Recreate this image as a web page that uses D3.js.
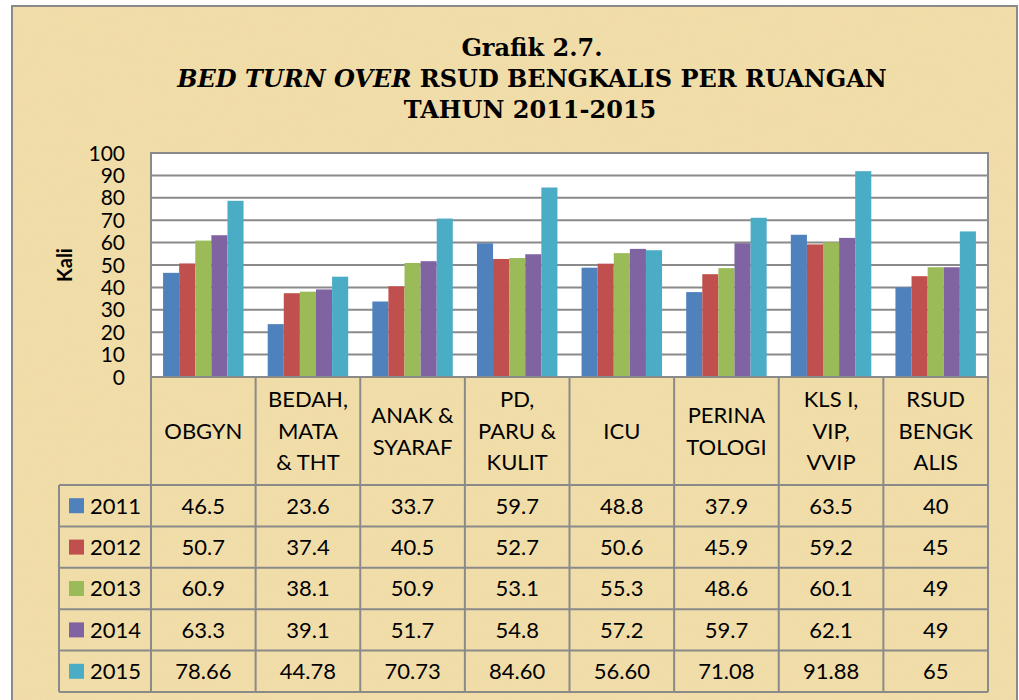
<!DOCTYPE html>
<html><head><meta charset="utf-8">
<script src="https://cdn.jsdelivr.net/npm/d3@7"></script>
<style>html,body{margin:0;padding:0;background:#fff;}svg{display:block;}</style>
</head><body>
<script>
const categories = [["OBGYN"],["BEDAH,","MATA","& THT"],["ANAK &","SYARAF"],["PD,","PARU &","KULIT"],["ICU"],["PERINA","TOLOGI"],["KLS I,","VIP,","VVIP"],["RSUD","BENGK","ALIS"]];
const years = ["2011","2012","2013","2014","2015"];
const v2011 = [46.5, 23.6, 33.7, 59.7, 48.8, 37.9, 63.5, 40];
const v2012 = [50.7, 37.4, 40.5, 52.7, 50.6, 45.9, 59.2, 45];
const v2013 = [60.9, 38.1, 50.9, 53.1, 55.3, 48.6, 60.1, 49];
const v2014 = [63.3, 39.1, 51.7, 54.8, 57.2, 59.7, 62.1, 49];
const v2015 = [78.66, 44.78, 70.73, 84.60, 56.60, 71.08, 91.88, 65];
const decimals = [1, 1, 1, 1, 2];
const colors = ["#4F81BD","#C0504D","#9BBB59","#8064A2","#4BACC6"];
const yTicks = [0,10,20,30,40,50,60,70,80,90,100];
const titleLines = ["Grafik 2.7.", "BED TURN OVER", " RSUD BENGKALIS PER RUANGAN", "TAHUN 2011-2015"];
const yLabel = "Kali";

const series = [v2011, v2012, v2013, v2014, v2015];
const W = 1019, H = 700;
const svg = d3.select("body").append("svg").attr("width", W).attr("height", H);

// background parchment
const defs = svg.append("defs");
const f = defs.append("filter").attr("id","paper").attr("x",0).attr("y",0).attr("width","100%").attr("height","100%");
f.append("feTurbulence").attr("type","fractalNoise").attr("baseFrequency","0.02 0.12").attr("numOctaves",3).attr("seed",4).attr("result","n");
f.append("feColorMatrix").attr("in","n").attr("type","matrix")
  .attr("values","0 0 0 0 0.80  0 0 0 0 0.68  0 0 0 0 0.40  0 0 0 0.3 0");
f.append("feComposite").attr("in2","SourceGraphic").attr("operator","in");

svg.append("rect").attr("x",0).attr("y",0).attr("width",W).attr("height",H).attr("fill","#ffffff");
svg.append("rect").attr("x",12).attr("y",6).attr("width",1005).attr("height",700).attr("fill","#F1DDA8");
svg.append("rect").attr("x",12).attr("y",6).attr("width",1005).attr("height",700).attr("fill","#F1DDA8").attr("filter","url(#paper)").attr("opacity",0.5);
svg.append("rect").attr("x",12).attr("y",6).attr("width",1005).attr("height",700).attr("fill","none").attr("stroke","#8a8a8a").attr("stroke-width",2);

// title
const tf = "'DejaVu Serif', 'Liberation Serif', serif";
const tfs = 24;
svg.append("text").attr("x",532).attr("y",56).attr("text-anchor","middle")
  .attr("font-family",tf).attr("font-weight","bold").attr("font-size",tfs).text(titleLines[0]);
const t2 = svg.append("text").attr("x",532).attr("y",87).attr("text-anchor","middle")
  .attr("font-family",tf).attr("font-weight","bold").attr("font-size",tfs);
t2.append("tspan").attr("font-style","italic").text(titleLines[1]);
t2.append("tspan").text(titleLines[2]);
svg.append("text").attr("x",530).attr("y",118).attr("text-anchor","middle")
  .attr("font-family",tf).attr("font-weight","bold").attr("font-size",tfs).text(titleLines[3]);

const L = 151, R = 988, T = 153, B = 377;
const font = "Lato, 'Open Sans', sans-serif";
const x = d3.scaleBand().domain(d3.range(categories.length)).range([L, R]).paddingInner(0).paddingOuter(0);
const x1 = d3.scaleBand().domain(years).range([0, x.bandwidth()]).paddingInner(0).paddingOuter(0.75);
const y = d3.scaleLinear().domain([0, 100]).range([B, T]);

// plot area
svg.append("rect").attr("x",L).attr("y",T).attr("width",R-L).attr("height",B-T).attr("fill","#ffffff");
svg.append("g").selectAll("line").data(yTicks.filter(d=>d>0)).join("line")
  .attr("x1",L).attr("x2",R).attr("y1",d=>y(d)).attr("y2",d=>y(d))
  .attr("stroke","#8a8a8a").attr("stroke-width",2);

// bars
const groups = svg.append("g").selectAll("g").data(series).join("g")
  .attr("fill",(d,i)=>colors[i]);
groups.each(function(vals, si){
  d3.select(this).selectAll("rect").data(vals).join("rect")
    .attr("x",(d,ci)=>x(ci)+x1(years[si]))
    .attr("width",x1.bandwidth())
    .attr("y",d=>y(d)).attr("height",d=>B-y(d));
});
svg.append("rect").attr("x",L).attr("y",T).attr("width",R-L).attr("height",B-T).attr("fill","none")
  .attr("stroke","#8a8a8a").attr("stroke-width",2);

// y axis
const ax = svg.append("g").attr("transform",`translate(${L},0)`)
  .call(d3.axisLeft(y).tickValues(yTicks).tickSize(0).tickPadding(26));
ax.select(".domain").remove();
ax.selectAll("text").attr("font-family",font).attr("font-size",21).attr("fill","#000").attr("dy","0.34em");

svg.append("text").attr("transform","translate(72,265) rotate(-90)").attr("text-anchor","middle")
  .attr("font-family",font).attr("font-weight","bold").attr("font-size",20).text(yLabel);

// table
const rowTop = 485, rowH = 41.4;
const tableBottom = rowTop + rowH*years.length;
const gc = "#8a8a8a";
const tg = svg.append("g").attr("stroke",gc).attr("stroke-width",2);
tg.selectAll("line.v").data(d3.range(categories.length+1)).join("line").attr("class","v")
  .attr("x1",i=>i<categories.length? x(i) : R).attr("x2",i=>i<categories.length? x(i) : R)
  .attr("y1",B).attr("y2",tableBottom);
tg.append("line").attr("x1",59).attr("x2",59).attr("y1",rowTop).attr("y2",tableBottom);
tg.selectAll("line.h").data(d3.range(years.length+1)).join("line").attr("class","h")
  .attr("x1",59).attr("x2",R).attr("y1",i=>rowTop+i*rowH).attr("y2",i=>rowTop+i*rowH);

// header text
const hdr = svg.append("g").selectAll("text").data(categories).join("text")
  .attr("font-family",font).attr("font-size",22).attr("text-anchor","middle").attr("fill","#000");
hdr.each(function(lines, ci){
  const cy = (B + rowTop)/2, lh = 31.5;
  const t = d3.select(this);
  lines.forEach((ln, k) => {
    t.append("tspan").attr("x", x(ci)+x.bandwidth()/2)
      .attr("y", cy + (k - (lines.length-1)/2)*lh).attr("dy","0.36em").text(ln);
  });
});

// legend column and values
years.forEach((yr, si) => {
  const cy = rowTop + si*rowH + rowH/2;
  svg.append("rect").attr("x",69).attr("y",cy-7.5).attr("width",15).attr("height",15).attr("fill",colors[si]);
  svg.append("text").attr("x",90).attr("y",cy).attr("dy","0.36em").attr("font-family",font).attr("font-size",22).text(yr);
  svg.append("g").selectAll("text").data(series[si]).join("text")
    .attr("x",(d,ci)=>x(ci)+x.bandwidth()/2).attr("y",cy).attr("dy","0.36em")
    .attr("text-anchor","middle").attr("font-family",font).attr("font-size",22)
    .text(d => Number.isInteger(d) ? String(d) : d.toFixed(decimals[si]));
});
</script>
</body></html>
